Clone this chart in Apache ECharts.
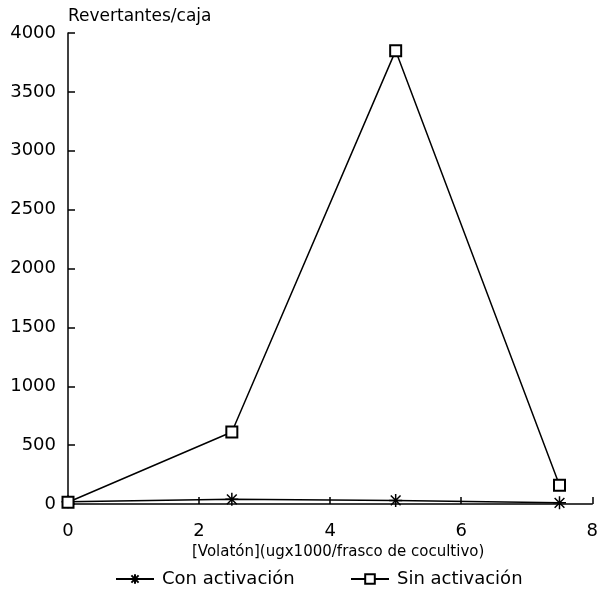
<!DOCTYPE html>
<html>
<head>
<meta charset="utf-8">
<script src="https://cdn.jsdelivr.net/npm/echarts@6/dist/echarts.min.js"></script>
<style>
  html, body { margin: 0; padding: 0; background: #fff; }
  #chart { width: 601px; height: 608px; }
</style>
</head>
<body>
<div id="chart"></div>
<script>
  // dosis de Volatón (ug x 1000 / frasco)
  let doses = [0, 2.5, 5, 7.5];
  let conActivacion = [20, 40, 30, 10];
  let sinActivacion = [15, 612, 3850, 160];
  let xTicks = [0, 2, 4, 6, 8];
  let yTicks = [0, 500, 1000, 1500, 2000, 2500, 3000, 3500, 4000];

  let font = 'DejaVu Sans';
  let asterisk = 'path://M0,-6L0,6M-6,0L6,0M-4.5,-4.5L4.5,4.5M-4.5,4.5L4.5,-4.5';

  let legendText = { fontFamily: font, fontSize: 18, color: '#000', padding: [0, 0, 0, 3] };

  let myChart = echarts.init(document.getElementById('chart'));
  let option = {
    animation: false,
    backgroundColor: '#fff',
    textStyle: { fontFamily: font, color: '#000' },
    grid: {
      left: 68,
      right: 8,
      top: 33,
      bottom: 104
    },
    legend: [
      {
        left: 110,
        top: 565,
        itemWidth: 38,
        itemHeight: 12,
        textStyle: legendText,
        data: ['Con activación']
      },
      {
        left: 345,
        top: 565,
        itemWidth: 38,
        itemHeight: 12,
        textStyle: legendText,
        data: ['Sin activación']
      }
    ],
    xAxis: {
      type: 'value',
      min: xTicks[0],
      max: xTicks[xTicks.length - 1],
      interval: 2,
      name: '[Volatón](ugx1000/frasco de cocultivo)',
      nameLocation: 'middle',
      nameGap: 41,
      nameTextStyle: { fontFamily: font, fontSize: 15, color: '#000', padding: [0, 0, 0, 16] },
      axisLine: { lineStyle: { color: '#000', width: 1.5 } },
      axisTick: { inside: true, length: 7, lineStyle: { color: '#000', width: 1.5 } },
      axisLabel: { fontFamily: font, fontSize: 18, color: '#000', margin: 18 },
      splitLine: { show: false }
    },
    yAxis: {
      type: 'value',
      min: yTicks[0],
      max: yTicks[yTicks.length - 1],
      interval: 500,
      name: 'Revertantes/caja',
      nameLocation: 'end',
      nameGap: 8,
      nameTextStyle: { fontFamily: font, fontSize: 17, color: '#000', align: 'left' },
      axisLine: { show: true, lineStyle: { color: '#000', width: 1.5 } },
      axisTick: { show: true, inside: true, length: 7, lineStyle: { color: '#000', width: 1.5 } },
      axisLabel: {
        fontFamily: font, fontSize: 18, color: '#000', margin: 12,
        formatter: v => String(v)
      },
      splitLine: { show: false }
    },
    series: [
      {
        name: 'Con activación',
        type: 'line',
        data: doses.map((d, i) => [d, conActivacion[i]]),
        symbol: asterisk,
        symbolSize: 13,
        lineStyle: { color: '#000', width: 1.5 },
        itemStyle: { color: '#000', borderColor: '#000', borderWidth: 1.5 }
      },
      {
        name: 'Sin activación',
        type: 'line',
        data: doses.map((d, i) => [d, sinActivacion[i]]),
        symbol: 'emptyRect',
        symbolSize: 11,
        lineStyle: { color: '#000', width: 1.5 },
        itemStyle: { color: '#000', borderColor: '#000', borderWidth: 1.5 }
      }
    ]
  };
  myChart.setOption(option);
</script>
</body>
</html>
